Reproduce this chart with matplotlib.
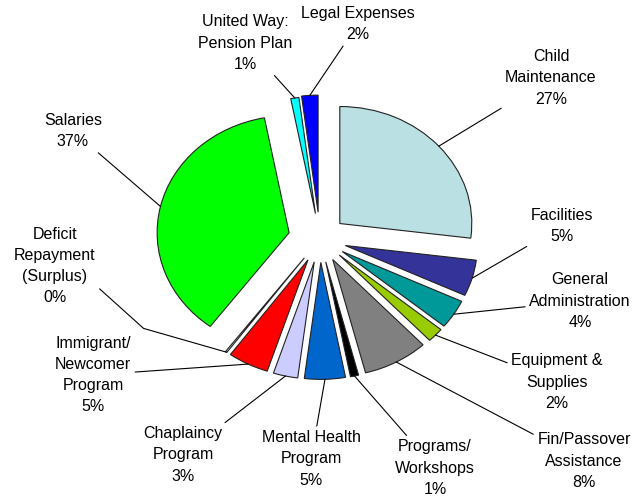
import matplotlib.pyplot as plt
import numpy as np

labels = ['Child\nMaintenance', 'Facilities', 'General\nAdministration', 'Equipment &\nSupplies',
          'Fin/Passover\nAssistance', 'Programs/\nWorkshops', 'Mental Health\nProgram',
          'Chaplaincy\nProgram', 'Immigrant/\nNewcomer\nProgram', 'Deficit\nRepayment\n(Surplus)',
          'Salaries', 'United Way:\nPension Plan', 'Legal Expenses']
values = [27, 5, 4, 2, 8, 1, 5, 3, 5, 0.2, 36.8, 1, 2]
colors = ['#BBE0E3', '#333399', '#009999', '#99CC00', '#808080', '#000000', '#0066CC',
          '#CCCCFF', '#FF0000', '#FFFFFF', '#00FF00', '#00FFFF', '#0000FF']

# layout: pixel position of each label centre, and pie centre / radii in pixels
label_px = [(551, 78), (562, 226), (580, 301), (557, 382), (584, 461), (435, 468), (311, 459),
            (183, 455), (93, 375), (55, 266), (73, 131), (245, 43), (358, 24)]
explode = [0.2, 0.2, 0.2, 0.2, 0.2, 0.2, 0.2, 0.2, 0.2, 0.2, 0.24, 0.22, 0.23]
CX, CY, RX, RY = 320, 239, 132, 117
W, H = 636, 501


def px2data(px, py):
    return (px - CX) / RX, (CY - py) / RY


fig = plt.figure(figsize=(W / 100, H / 100), dpi=100, facecolor='white')
ax = fig.add_axes([0, 0, 1, 1])
wedges, _ = ax.pie(values, colors=colors, explode=explode, startangle=90, counterclock=False,
                   radius=1, wedgeprops=dict(edgecolor='#222222', linewidth=0.8))
ax.set_aspect('auto')
ax.set_xlim(px2data(0, 0)[0], px2data(W, 0)[0])
ax.set_ylim(px2data(0, H)[1], px2data(0, 0)[1])
ax.axis('off')

total = sum(values)
for w, lab, v, pos in zip(wedges, labels, values, label_px):
    mid = np.deg2rad((w.theta1 + w.theta2) / 2)
    cx, cy = w.center
    anchor = (cx + w.r * np.cos(mid), cy + w.r * np.sin(mid))
    txt = f"{lab}\n{round(v / total * 100)}%"
    arrow = dict(arrowstyle='-', color='black', lw=0.8, shrinkA=1, shrinkB=0)
    if lab.startswith('Deficit'):
        # bent leader line like the original
        arrow.update(connectionstyle='angle,angleA=-42,angleB=-16,rad=0', relpos=(0.95, 0.3))
    ax.annotate(txt, xy=anchor, xytext=px2data(*pos), ha='center', va='center',
                fontsize=11.5, family=['Liberation Sans', 'DejaVu Sans'], linespacing=1.52,
                arrowprops=arrow)

plt.savefig('out.png', dpi=100, facecolor='white')
